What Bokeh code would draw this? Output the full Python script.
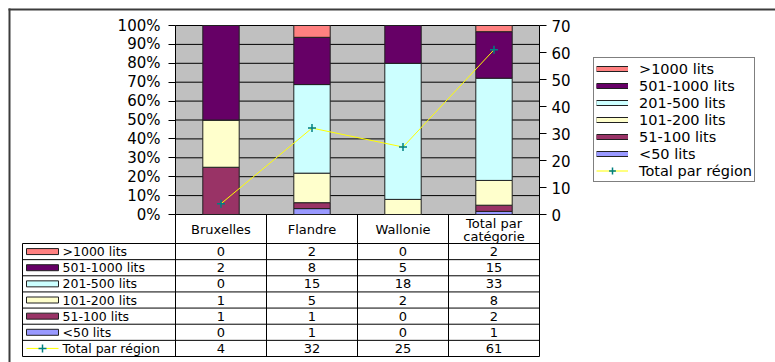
import numpy as np
from bokeh.plotting import figure
from bokeh.models import (ColumnDataSource, Range1d, LinearAxis, FixedTicker,
                          NumeralTickFormatter, Legend, LegendItem)
from bokeh.embed import file_html
from bokeh.resources import INLINE
from bokeh.core.properties import value

# ---- data -------------------------------------------------------------
regions = ["Bruxelles", "Flandre", "Wallonie", "Total par catégorie"]
header_labels = ["Bruxelles", "Flandre", "Wallonie", "Total par\ncatégorie"]
size_classes = [">1000 lits", "501-1000 lits", "201-500 lits",
                "101-200 lits", "51-100 lits", "<50 lits"]
gt1000 = [0, 2, 0, 2]
c501_1000 = [2, 8, 5, 15]
c201_500 = [0, 15, 18, 33]
c101_200 = [1, 5, 2, 8]
c51_100 = [1, 1, 0, 2]
lt50 = [0, 1, 0, 1]
total_label = "Total par région"
totals = [4, 32, 25, 61]
pct_ticks = [0, 0.1, 0.2, 0.3, 0.4, 0.5, 0.6, 0.7, 0.8, 0.9, 1.0]
total_ticks = [0, 10, 20, 30, 40, 50, 60, 70]

# ---- styles -----------------------------------------------------------
class_colors = ["#FF8080", "#660066", "#CCFFFF", "#FFFFCC", "#993366", "#9999FF"]
PLOT_BG = "#C0C0C0"
LINE_COLOR = "#FFFF00"
MARK_COLOR = "#008080"
EDGE = "#202020"
BORDER = "#3c3c3c"
FONT = "DejaVu Sans"

# page geometry (pixels)
W, H = 775, 362
COL_LEFT, COL_PX = 175, 91          # first column edge, column width
BASE_Y, FULL_PX = 214, 189          # 0% line, height of 0..100%
TOTAL_MAX = 70
TABLE_TOP, ROW_PX = 243, 113 / 7
TABLE_LEFT = 22

n = len(regions)
series = [gt1000, c501_1000, c201_500, c101_200, c51_100, lt50]
xc = np.arange(n) + 0.5

p = figure(width=W, height=H,
           x_range=Range1d(-COL_LEFT / COL_PX, (W - COL_LEFT) / COL_PX),
           y_range=Range1d(-(H - BASE_Y) / FULL_PX, BASE_Y / FULL_PX),
           output_backend="svg", toolbar_location=None,
           x_axis_location=None, y_axis_location=None, min_border=0,
           background_fill_color="white", border_fill_color="white",
           outline_line_color=None)
p.grid.visible = False
tscale = FULL_PX / TOTAL_MAX
p.extra_y_ranges = {
    "total": Range1d(-(H - BASE_Y) / tscale, BASE_Y / tscale),
    "table": Range1d((H - TABLE_TOP) / ROW_PX, -TABLE_TOP / ROW_PX),
    "px": Range1d(H, 0),
}
p.extra_x_ranges = {"px": Range1d(0, W)}

# outer frame: top and left edges
p.segment(x0=[8, 9], y0=[9, 8], x1=[W, 9], y1=[9, H + 2],
          x_range_name="px", y_range_name="px", line_color=BORDER, line_width=2)

# plot area and horizontal gridlines
p.quad(left=[0], right=[n], bottom=[0], top=[1], fill_color=PLOT_BG, line_color=None)
p.segment(x0=[0] * len(pct_ticks), y0=pct_ticks, x1=[n] * len(pct_ticks), y1=pct_ticks,
          line_color="black", line_width=1)

# 100% stacked columns
tot = np.array(totals, dtype=float)
data = {"x": xc}
keys = []
for k, vals in enumerate(series):
    key = f"s{k}"
    data[key] = np.array(vals, dtype=float) / tot
    keys.append(key)
src = ColumnDataSource(data)
p.vbar_stack(keys[::-1], x="x", width=0.4, source=src,
             fill_color=class_colors[::-1], line_color=EDGE, line_width=1)

# totals line on the secondary scale
line_r = p.line(xc, totals, y_range_name="total", line_color=LINE_COLOR, line_width=1)
mark_r = p.scatter(xc, totals, y_range_name="total", marker="cross", size=8,
                   line_color=MARK_COLOR, line_width=1.5)

axis_style = dict(axis_line_color="black", major_tick_out=7, major_tick_in=0,
                  minor_tick_out=0, minor_tick_in=0,
                  major_label_text_font=FONT, major_label_text_font_size="15px",
                  major_label_text_color="black")
ya = LinearAxis(ticker=FixedTicker(ticks=pct_ticks),
                formatter=NumeralTickFormatter(format="0%"),
                fixed_location=0, bounds=(0, 1), major_label_standoff=8,
                **axis_style)
p.add_layout(ya, "left")
ra = LinearAxis(y_range_name="total", ticker=FixedTicker(ticks=total_ticks),
                fixed_location=n, bounds=(0, TOTAL_MAX), major_label_standoff=5,
                **axis_style)
p.add_layout(ra, "right")

# ---- data table -------------------------------------------------------
def cx(px):
    return (px - COL_LEFT) / COL_PX

def ry(px):
    return (px - TABLE_TOP) / ROW_PX

n_rows = len(size_classes) + 1
rows = np.arange(n_rows + 1)
p.segment(x0=[cx(TABLE_LEFT)] * len(rows), y0=rows, x1=[n] * len(rows), y1=rows,
          y_range_name="table", line_color="black", line_width=1)
cols = np.arange(n + 1)
p.segment(x0=cols, y0=[ry(BASE_Y)] * len(cols), x1=cols, y1=[n_rows] * len(cols),
          y_range_name="table", line_color="black", line_width=1)
p.segment(x0=[cx(TABLE_LEFT)], y0=[0], x1=[cx(TABLE_LEFT)], y1=[n_rows],
          y_range_name="table", line_color="black", line_width=1)

# column headers
head_y = [ry(229.5) if "\n" in t else ry(228.5) for t in header_labels]
p.text(x=xc, y=head_y, text=header_labels, y_range_name="table",
       text_align="center", text_baseline="middle", text_font=value(FONT),
       text_font_size="13px", text_line_height=0.85, text_color="black")

# row keys
key_y = np.arange(len(size_classes)) + 0.5
p.rect(x=[cx(42)] * len(size_classes), y=key_y, width=32, height=6,
       width_units="screen", height_units="screen", y_range_name="table",
       fill_color=class_colors, line_color=EDGE, line_width=1)
p.segment(x0=[cx(26)], y0=[n_rows - 0.5], x1=[cx(58)], y1=[n_rows - 0.5],
          y_range_name="table", line_color=LINE_COLOR, line_width=1)
p.scatter(x=[cx(42)], y=[n_rows - 0.5], marker="cross", size=8,
          y_range_name="table", line_color=MARK_COLOR, line_width=1.5)
p.text(x=[cx(62)] * n_rows, y=np.arange(n_rows) + 0.5,
       text=size_classes + [total_label], y_range_name="table",
       text_align="left", text_baseline="middle", text_font=value(FONT),
       text_font_size="12.5px", text_color="black")

# cell values
cell_x, cell_y, cell_t = [], [], []
for i, vals in enumerate(series + [totals]):
    for j, v in enumerate(vals):
        cell_x.append(xc[j])
        cell_y.append(i + 0.5)
        cell_t.append(str(v))
p.text(x=cell_x, y=cell_y, text=cell_t, y_range_name="table",
       text_align="center", text_baseline="middle", text_font=value(FONT),
       text_font_size="13px", text_color="black")

# ---- legend with thin bordered swatches -------------------------------
# legend-only proxies: a single NaN point, so nothing is drawn in the plot
nan = np.array([np.nan])
items = []
for name, color in zip(size_classes, class_colors):
    edge = p.line(nan, nan, line_color=EDGE, line_width=6)
    face = p.line(nan, nan, line_color=color, line_width=4)
    items.append(LegendItem(label=name, renderers=[edge, face]))
items.append(LegendItem(label=total_label, renderers=[line_r, mark_r]))
legend = Legend(items=items, location=(593, H - 182),
                border_line_color="black", border_line_width=1,
                background_fill_color="white", background_fill_alpha=1.0,
                label_text_font=FONT, label_text_font_size="14.5px",
                label_text_color="black",
                glyph_width=32, glyph_height=17, label_height=17,
                spacing=0, padding=2, label_standoff=11, margin=0)
p.add_layout(legend)

open("out.html", "w").write(file_html(p, INLINE))
